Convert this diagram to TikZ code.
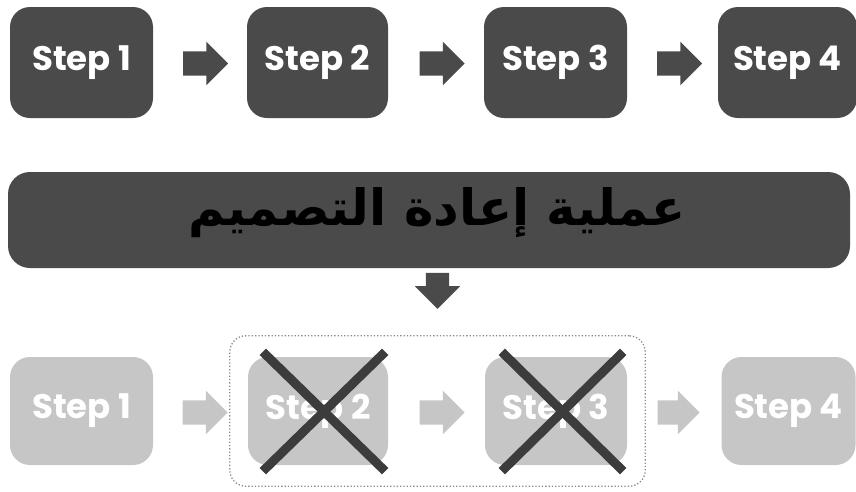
\documentclass[tikz,border=0pt]{standalone}
\usepackage{fontspec}
\setmainfont{Poppins}
\newfontfamily\arabicfont[Script=Arabic]{DejaVu Sans}
\TeXXeTstate=1
\usetikzlibrary{shapes.arrows,calc,fit}
\definecolor{darkfill}{HTML}{4A4A4A}
\definecolor{lightfill}{HTML}{C6C6C6}
\definecolor{xcol}{HTML}{3C3C3C}
\definecolor{framecol}{HTML}{8A8A8A}
\tikzset{
  stepbox/.style={rounded corners=20pt, minimum height=111pt, inner sep=0pt,
    text=white, font=\bfseries\fontsize{34}{34}\selectfont},
  topbox/.style={stepbox, fill=darkfill},
  lowbox/.style={stepbox, fill=lightfill, minimum height=108pt},
  blockarrow/.style={single arrow, draw=none, inner xsep=0pt, inner ysep=12pt,
    minimum height=45pt, minimum width=43pt, single arrow head extend=9.5pt,
    single arrow tip angle=90},
  darkarrow/.style={blockarrow, fill=darkfill},
  lightarrow/.style={blockarrow, fill=lightfill},
  crossline/.style={xcol, line width=9pt},
  banner/.style={rounded corners=22pt, fill=darkfill, minimum width=842pt,
    minimum height=96pt, inner sep=0pt},
  frame/.style={draw=framecol, dotted, line width=1.3pt, rounded corners=16pt}
}
\begin{document}
\begin{tikzpicture}[x=1pt,y=-1pt]
\useasboundingbox (0,0) rectangle (856,491);
% top row
\node[topbox, minimum width=143pt] (t1) at (81.5,62.5) {Step 1};
\node[topbox, minimum width=141pt] (t2) at (317.5,62.5) {Step 2};
\node[topbox, minimum width=143pt] (t3) at (555.5,62.5) {Step 3};
\node[topbox, minimum width=139pt] (t4) at (787.5,62.5) {Step 4};
\node[darkarrow] (ta1) at (199.5,63.5) {};
\node[darkarrow] (ta2) at (436,63.5) {};
\node[darkarrow] (ta3) at (673.5,63.5) {};
% banner
\node[banner] (ban) at (429,220) {};
\node[font=\arabicfont\bfseries\fontsize{50}{50}\selectfont, text=black] (bantext) at (437,213) {\beginR عملية إعادة التصميم\endR};
\node[darkarrow, shape border rotate=270, inner xsep=11.5pt, inner ysep=11.5pt, minimum height=36pt, minimum width=45pt, single arrow head extend=11pt] (down) at (437.5,285) {};
% bottom row
\node[lowbox, minimum width=143pt] (b1) at (81.5,411) {Step 1};
\node[lowbox, minimum width=140pt] (b2) at (318,411) {Step 2};
\node[lowbox, minimum width=142pt] (b3) at (556,411) {Step 3};
\node[lowbox, minimum width=134pt] (b4) at (788.5,411) {Step 4};
\node[lightarrow] (ba1) at (199,412.5) {};
\node[lightarrow] (ba2) at (436,412.5) {};
\node[lightarrow, minimum height=42pt] (ba3) at (672.5,412.5) {};
\node[frame, fit=(b2)(b3), inner xsep=18pt, inner ysep=21pt] (grp) {};
% crosses
\draw[crossline] ($(b2.north west)+(15,-5)$) -- ($(b2.south east)+(-3,6)$);
\draw[crossline] ($(b2.south west)+(15,6)$) -- ($(b2.north east)+(-3,-5)$);
\draw[crossline] ($(b3.north west)+(17,-5)$) -- ($(b3.south east)+(-4,6)$);
\draw[crossline] ($(b3.south west)+(17,6)$) -- ($(b3.north east)+(-4,-5)$);
\end{tikzpicture}
\end{document}
